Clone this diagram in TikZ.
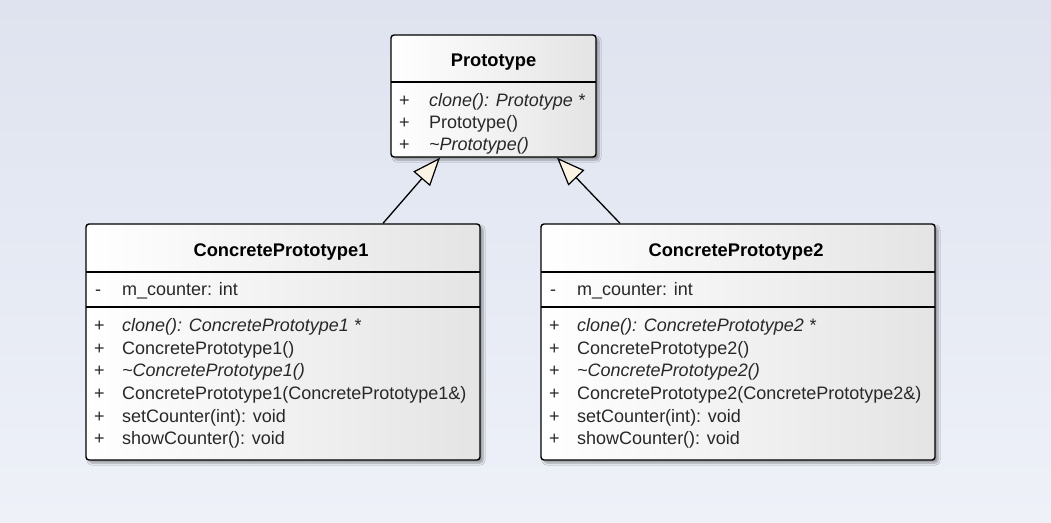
\documentclass[tikz,border=0pt]{standalone}
\usepackage{fontspec}
\setmainfont{Liberation Sans}
\usetikzlibrary{arrows.meta,shadows.blur,calc}
\definecolor{bgtop}{RGB}{222,227,239}
\definecolor{bgbot}{RGB}{238,241,248}
\definecolor{boxright}{RGB}{228,228,228}
\definecolor{cream}{RGB}{251,243,228}
\definecolor{txt}{RGB}{40,40,40}
\tikzset{
  umlbox/.style={draw=black, line width=1.4pt, rounded corners=3pt, inner sep=0pt,
    shading=axis, left color=white, right color=boxright, shading angle=90,
    blur shadow={shadow xshift=3pt, shadow yshift=-3pt, shadow blur steps=6, shadow opacity=35}},
  divider/.style={draw=black, line width=1.2pt},
  ttl/.style={anchor=base, inner sep=0pt, font=\fontsize{18.3}{22}\selectfont\bfseries, text=black},
  mem/.style={anchor=base west, inner sep=0pt, font=\fontsize{18}{22}\selectfont, text=txt},
  vis/.style={anchor=base west, inner sep=0pt, font=\fontsize{18}{22}\selectfont, text=txt},
  inherit/.style={draw=black, line width=1.3pt, -{Triangle[open, fill=cream, length=28pt, width=22pt, line width=1.2pt]}},
}
\begin{document}
\begin{tikzpicture}[x=1pt,y=-1pt]
\useasboundingbox (0,0) rectangle (1051,522);
\shade[top color=bgtop, bottom color=bgbot] (0,0) rectangle (1051,522);

% Prototype
\node[umlbox, minimum width=205pt, minimum height=122pt] (proto) at (493.5,96) {};
\draw[divider] (391,82) -- (596,82);
\node[ttl] (protot) at (493.5,66) {Prototype};
\node[vis] (pv1) at (399,106) {+};
\node[mem] (pm1) at (429,106) {\itshape clone(): Prototype *};
\node[vis] (pv2) at (399,128) {+};
\node[mem] (pm2) at (429,128) {Prototype()};
\node[vis] (pv3) at (399,150) {+};
\node[mem] (pm3) at (429,150) {\itshape \textasciitilde Prototype()};

% ConcretePrototype1
\node[umlbox, minimum width=394pt, minimum height=236pt] (cp1) at (283,342) {};
\draw[divider] (86,272) -- (480,272);
\draw[divider] (86,307) -- (480,307);
\node[ttl] (cp1t) at (281,256) {ConcretePrototype1};
\node[vis] (a1v) at (95,295) {-};
\node[mem] (a1) at (122,295) {m\_counter: int};
\node[vis] (c1v1) at (94,331) {+};
\node[mem] (c1m1) at (122,331) {\itshape clone(): ConcretePrototype1 *};
\node[vis] (c1v2) at (94,354) {+};
\node[mem] (c1m2) at (122,354) {ConcretePrototype1()};
\node[vis] (c1v3) at (94,376) {+};
\node[mem] (c1m3) at (122,376) {\itshape \textasciitilde ConcretePrototype1()};
\node[vis] (c1v4) at (94,399) {+};
\node[mem] (c1m4) at (122,399) {ConcretePrototype1(ConcretePrototype1\&)};
\node[vis] (c1v5) at (94,422) {+};
\node[mem] (c1m5) at (122,422) {setCounter(int): void};
\node[vis] (c1v6) at (94,444) {+};
\node[mem] (c1m6) at (122,444) {showCounter(): void};

% ConcretePrototype2
\node[umlbox, minimum width=394pt, minimum height=236pt] (cp2) at (738,342) {};
\draw[divider] (541,272) -- (935,272);
\draw[divider] (541,307) -- (935,307);
\node[ttl] (cp2t) at (736,256) {ConcretePrototype2};
\node[vis] (a2v) at (550,295) {-};
\node[mem] (a2) at (577,295) {m\_counter: int};
\node[vis] (c2v1) at (549,331) {+};
\node[mem] (c2m1) at (577,331) {\itshape clone(): ConcretePrototype2 *};
\node[vis] (c2v2) at (549,354) {+};
\node[mem] (c2m2) at (577,354) {ConcretePrototype2()};
\node[vis] (c2v3) at (549,376) {+};
\node[mem] (c2m3) at (577,376) {\itshape \textasciitilde ConcretePrototype2()};
\node[vis] (c2v4) at (549,399) {+};
\node[mem] (c2m4) at (577,399) {ConcretePrototype2(ConcretePrototype2\&)};
\node[vis] (c2v5) at (549,422) {+};
\node[mem] (c2m5) at (577,422) {setCounter(int): void};
\node[vis] (c2v6) at (549,444) {+};
\node[mem] (c2m6) at (577,444) {showCounter(): void};

% inheritance
\draw[inherit] ([xshift=100pt]cp1.north) -- ([xshift=-53.5pt]proto.south);
\draw[inherit] ([xshift=-118pt]cp2.north) -- ([xshift=63.5pt]proto.south);
\end{tikzpicture}
\end{document}
